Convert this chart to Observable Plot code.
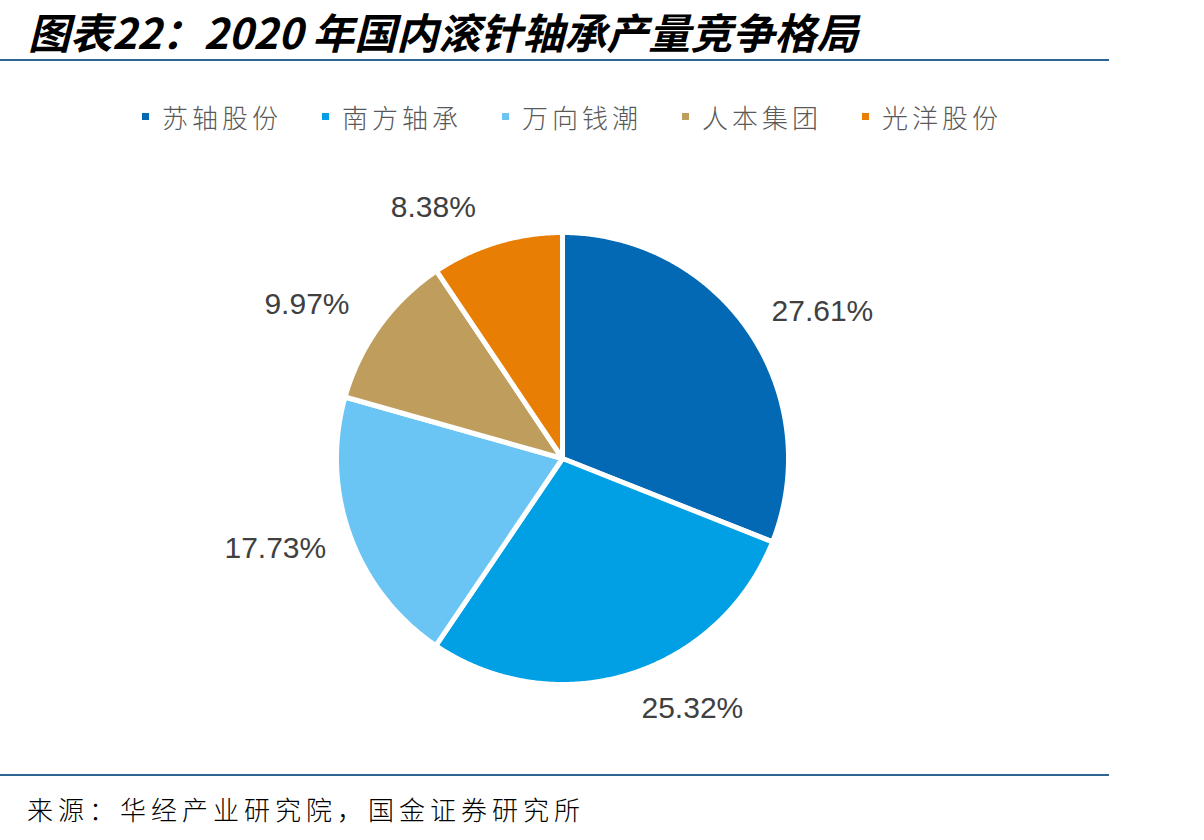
<!DOCTYPE html>
<html>
<head>
<meta charset="utf-8">
<script src="https://cdn.jsdelivr.net/npm/d3@7"></script>
<script src="https://cdn.jsdelivr.net/npm/@observablehq/plot@0.6"></script>
<style>
  html, body { margin: 0; padding: 0; background: #fff; }
  body { width: 1204px; height: 840px; position: relative; overflow: hidden; font-family: "Noto Sans CJK SC", sans-serif; }
  #title { position: absolute; left: 28px; top: 6px; font-size: 42px; line-height: 50px; font-weight: 700; font-style: italic; color: #000; white-space: nowrap; letter-spacing: 0px; padding-right: 8px; }
  .rule { position: absolute; left: 0; width: 1109px; height: 2px; background: #2E6593; }
  #legend { position: absolute; left: 142px; top: 98px; display: flex; align-items: center; white-space: nowrap; }
  .item { display: flex; align-items: center; margin-right: 40px; }
  .sw { width: 7px; height: 7px; margin-right: 13px; }
  .lt { font-size: 26px; font-weight: 300; color: #595959; letter-spacing: 4px; }
  #chart { position: absolute; left: 0; top: 140px; }
  #source { position: absolute; left: 27px; top: 790px; font-size: 26px; font-weight: 300; color: #000; letter-spacing: 5px; white-space: nowrap; }
</style>
</head>
<body>
<div id="title">图表22：2020 年国内滚针轴承产量竞争格局</div>
<div class="rule" style="top:59px"></div>
<div id="legend"></div>
<div id="chart"></div>
<div class="rule" style="top:774px"></div>
<div id="source">来源：华经产业研究院，国金证券研究所</div>
<script>
// ---- data ----
const companies = ["苏轴股份", "南方轴承", "万向钱潮", "人本集团", "光洋股份"];
const shares = [27.61, 25.32, 17.73, 9.97, 8.38];
const labels = ["27.61%", "25.32%", "17.73%", "9.97%", "8.38%"];
const colors = ["#0369B5", "#019FE3", "#6AC5F4", "#BF9D5C", "#E87E04"];

// ---- layout ----
const W = 1204, H = 630;
const cx = 562, cy = 318;   // pie centre in SVG pixels
const R = 226;              // radius in pixels (1 data unit)

const rows = companies.map((c, i) => ({company: c, value: shares[i], label: labels[i]}));
const arcs = d3.pie().sort(null).value(d => d.value).startAngle(0)(rows);

// slice outlines (data units, y up)
const poly = [];
for (const a of arcs) {
  poly.push({company: a.data.company, x: 0, y: 0});
  const n = Math.max(2, Math.ceil((a.endAngle - a.startAngle) / 0.005));
  for (let k = 0; k <= n; k++) {
    const t = a.startAngle + (a.endAngle - a.startAngle) * k / n;
    poly.push({company: a.data.company, x: Math.sin(t), y: Math.cos(t)});
  }
  poly.push({company: a.data.company, x: 0, y: 0});
}

// label anchors: just outside the rim at the mid-angle, pushed sideways by half the label box
const gap = 18 / R, halfW = 58 / R, halfH = 18 / R;
const lab = arcs.map(a => {
  const m = (a.startAngle + a.endAngle) / 2;
  const s = Math.sin(m), c = Math.cos(m);
  return {label: a.data.label, x: (1 + gap) * s + Math.sign(s) * halfW, y: (1 + gap) * c + c * halfH};
});

const chart = Plot.plot({
  width: W, height: H,
  margin: 0,
  x: {domain: [-cx / R, (W - cx) / R], axis: null},
  y: {domain: [-(H - cy) / R, cy / R], axis: null},
  color: {domain: companies, range: colors},
  marks: [
    Plot.line(poly, {x: "x", y: "y", z: "company", fill: "company", stroke: "#fff", strokeWidth: 5, strokeLinejoin: "round", curve: "linear"}),
    Plot.text(lab, {x: "x", y: "y", text: "label", fontSize: 30, fill: "#404040", fontFamily: "Liberation Sans, Arial, sans-serif", textAnchor: "middle"})
  ]
});
document.getElementById("chart").appendChild(chart);

// legend
const lg = document.getElementById("legend");
companies.forEach((c, i) => {
  const it = document.createElement("div"); it.className = "item";
  const sw = document.createElement("div"); sw.className = "sw"; sw.style.background = colors[i];
  const t = document.createElement("span"); t.className = "lt"; t.textContent = c;
  it.appendChild(sw); it.appendChild(t); lg.appendChild(it);
});
</script>
</body>
</html>
